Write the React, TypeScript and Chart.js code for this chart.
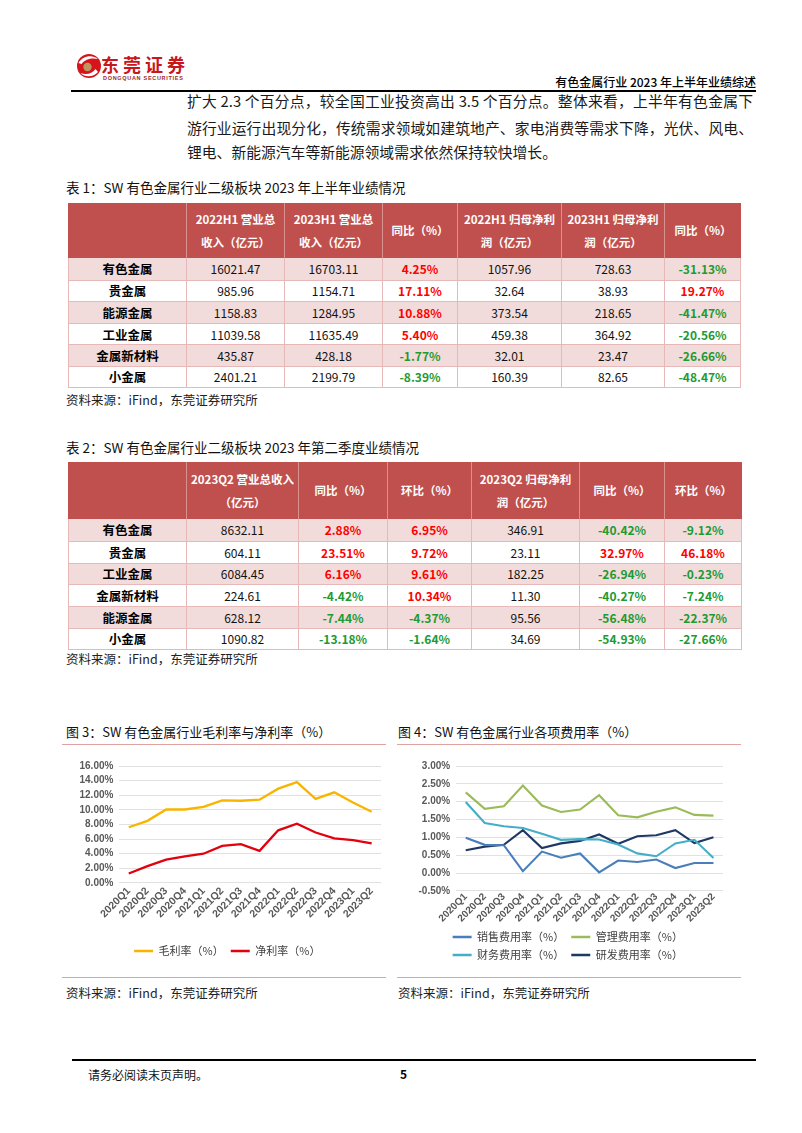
import React, { useEffect, useRef } from 'react';
import { Chart, registerables } from 'chart.js';

Chart.register(...registerables);

const FONT = "'Noto Sans CJK SC', 'Noto Sans', sans-serif";
const TICK_FONT = "'Liberation Sans', Arial, sans-serif";

// ---------- chart data ----------
const quarters = ['2020Q1', '2020Q2', '2020Q3', '2020Q4', '2021Q1', '2021Q2', '2021Q3', '2021Q4', '2022Q1', '2022Q2', '2022Q3', '2022Q4', '2023Q1', '2023Q2'];
const grossMargin = [7.62, 8.5, 10.05, 10.05, 10.4, 11.3, 11.25, 11.4, 12.9, 13.8, 11.5, 12.4, 11.0, 9.73];
const netMargin = [1.3, 2.3, 3.2, 3.65, 4.0, 5.07, 5.3, 4.4, 7.2, 8.1, 6.9, 6.1, 5.85, 5.4];
const sellingRate = [0.99, 0.79, 0.78, 0.05, 0.6, 0.43, 0.55, 0.02, 0.35, 0.31, 0.38, 0.14, 0.28, 0.28];
const adminRate = [2.26, 1.8, 1.87, 2.45, 1.89, 1.71, 1.78, 2.18, 1.62, 1.56, 1.72, 1.84, 1.63, 1.61];
const financeRate = [1.99, 1.4, 1.31, 1.26, 1.1, 0.93, 0.95, 0.94, 0.8, 0.55, 0.47, 0.83, 0.93, 0.42];
const rdRate = [0.64, 0.74, 0.79, 1.2, 0.7, 0.83, 0.9, 1.08, 0.82, 1.03, 1.06, 1.2, 0.84, 1.0];

// ---------- table 1 data ----------
const t1Sectors = ['有色金属', '贵金属', '能源金属', '工业金属', '金属新材料', '小金属'];
const t1Rev2022 = [16021.47, 985.96, 1158.83, 11039.58, 435.87, 2401.21];
const t1Rev2023 = [16703.11, 1154.71, 1284.95, 11635.49, 428.18, 2199.79];
const t1RevYoy = [4.25, 17.11, 10.88, 5.4, -1.77, -8.39];
const t1Np2022 = [1057.96, 32.64, 373.54, 459.38, 32.01, 160.39];
const t1Np2023 = [728.63, 38.93, 218.65, 364.92, 23.47, 82.65];
const t1NpYoy = [-31.13, 19.27, -41.47, -20.56, -26.66, -48.47];

// ---------- table 2 data ----------
const t2Sectors = ['有色金属', '贵金属', '工业金属', '金属新材料', '能源金属', '小金属'];
const t2Rev = [8632.11, 604.11, 6084.45, 224.61, 628.12, 1090.82];
const t2RevYoy = [2.88, 23.51, 6.16, -4.42, -7.44, -13.18];
const t2RevQoq = [6.95, 9.72, 9.61, 10.34, -4.37, -1.64];
const t2Np = [346.91, 23.11, 182.25, 11.3, 95.56, 34.69];
const t2NpYoy = [-40.42, 32.97, -26.94, -40.27, -56.48, -54.93];
const t2NpQoq = [-9.12, 46.18, -0.23, -7.24, -22.37, -27.66];

const t1Header = [[''], ['2022H1 营业总', '收入（亿元）'], ['2023H1 营业总', '收入（亿元）'], ['同比（%）'], ['2022H1 归母净利', '润（亿元）'], ['2023H1 归母净利', '润（亿元）'], ['同比（%）']];
const t2Header = [[''], ['2023Q2 营业总收入', '（亿元）'], ['同比（%）'], ['环比（%）'], ['2023Q2 归母净利', '润（亿元）'], ['同比（%）'], ['环比（%）']];

const paraLines = [
  '扩大 2.3 个百分点，较全国工业投资高出 3.5 个百分点。整体来看，上半年有色金属下',
  '游行业运行出现分化，传统需求领域如建筑地产、家电消费等需求下降，光伏、风电、',
  '锂电、新能源汽车等新能源领域需求依然保持较快增长。',
];

type Cell = { text: string; color?: string; bold?: boolean; size?: number };

const RED = '#FF0000';
const GREEN = '#1E9A32';

function num(v: number): Cell {
  return { text: v.toFixed(2) };
}
function pct(v: number): Cell {
  return { text: v.toFixed(2) + '%', color: v >= 0 ? RED : GREEN, bold: true };
}
function name(s: string): Cell {
  return { text: s, bold: true, size: 12.5, color: '#000' };
}

function DataTable(props: { left: number; top: number; widths: number[]; headerH: number; rowH: number; headers: string[][]; rows: Cell[][] }) {
  const { left, top, widths, headerH, rowH, headers, rows } = props;
  const total = widths.reduce((a, b) => a + b, 0);
  return (
    <div style={{ position: 'absolute', left, top, width: total }}>
      <div style={{ display: 'flex', height: headerH, background: '#C0504D' }}>
        {headers.map((h, i) => (
          <div
            key={i}
            style={{
              width: widths[i],
              boxSizing: 'border-box',
              borderLeft: i ? '1px solid #D9918F' : 'none',
              display: 'flex',
              flexDirection: 'column',
              justifyContent: 'center',
              alignItems: 'center',
              color: '#fff',
              fontWeight: 700,
              fontSize: 11.5,
              lineHeight: '23px',
              whiteSpace: 'nowrap',
            }}
          >
            {h.map((line, j) => (
              <div key={j}>{line}</div>
            ))}
          </div>
        ))}
      </div>
      {rows.map((r, ri) => (
        <div
          key={ri}
          style={{
            display: 'flex',
            height: rowH,
            boxSizing: 'border-box',
            background: ri % 2 === 0 ? '#F2DCDB' : '#FFFFFF',
            borderTop: ri ? '1px solid #E6B8B7' : 'none',
            borderLeft: '1px solid #E6B8B7',
            borderRight: '1px solid #E6B8B7',
            borderBottom: ri === rows.length - 1 ? '1px solid #E6B8B7' : 'none',
          }}
        >
          {r.map((c, ci) => (
            <div
              key={ci}
              style={{
                width: widths[ci] - (ci === 0 ? 1 : ci === r.length - 1 ? 1 : 0),
                boxSizing: 'border-box',
                borderLeft: ci ? '1px solid #E6B8B7' : 'none',
                display: 'flex',
                alignItems: 'center',
                justifyContent: 'center',
                fontSize: c.size || 12,
                fontWeight: c.bold ? 700 : 400,
                color: c.color || '#111',
                whiteSpace: 'nowrap',
              }}
            >
              {c.text}
            </div>
          ))}
        </div>
      ))}
    </div>
  );
}

function legendLabels() {
  return {
    boxWidth: 19,
    boxHeight: 2.5,
    padding: 7,
    color: '#404040',
    font: { family: FONT, size: 11 },
    generateLabels: (chart: any) =>
      (Chart.defaults.plugins.legend.labels.generateLabels as any)(chart).map((l: any) => ({ ...l, lineWidth: 0 })),
  };
}

function tickFont(size: number) {
  return { family: TICK_FONT, size, weight: 'bold' as const };
}

function LineChart(props: { left: number; top: number; width: number; height: number; build: () => any }) {
  const ref = useRef<HTMLCanvasElement>(null);
  useEffect(() => {
    const chart = new Chart(ref.current as HTMLCanvasElement, props.build());
    return () => chart.destroy();
  }, []);
  return (
    <canvas
      ref={ref}
      width={props.width}
      height={props.height}
      style={{ position: 'absolute', left: props.left, top: props.top, width: props.width, height: props.height }}
    />
  );
}

function line(label: string, data: number[], color: string, width: number) {
  return {
    label,
    data,
    borderColor: color,
    backgroundColor: color,
    borderWidth: width,
    pointRadius: 0,
    pointHoverRadius: 0,
    tension: 0,
    fill: false,
  };
}

function marginConfig() {
  return {
    type: 'line',
    data: {
      labels: quarters,
      datasets: [line('毛利率（%）', grossMargin, '#F7B500', 2.3), line('净利率（%）', netMargin, '#E3000F', 2.3)],
    },
    options: {
      animation: false,
      responsive: false,
      maintainAspectRatio: false,
      layout: { padding: { left: 7.5, right: 5, top: 18, bottom: 9.5 } },
      scales: {
        x: {
          offset: true,
          grid: { display: false, drawTicks: false },
          border: { display: false },
          ticks: { autoSkip: false, maxRotation: 45, minRotation: 45, padding: 2, color: '#595959', font: tickFont(10.5) },
          title: { display: true, text: '', padding: { top: 15, bottom: 0 }, font: { size: 1 } },
        },
        y: {
          min: 0,
          max: 16,
          grid: { color: '#D9D9D9', lineWidth: 0.8, drawTicks: false },
          border: { display: false },
          ticks: { autoSkip: false, stepSize: 2, padding: 6, color: '#595959', font: tickFont(10), callback: (v: any) => Number(v).toFixed(2) + '%' },
        },
      },
      plugins: {
        legend: { position: 'bottom', labels: legendLabels() },
        tooltip: { enabled: false },
      },
    },
  };
}

function expenseConfig() {
  return {
    type: 'line',
    data: {
      labels: quarters,
      datasets: [
        line('销售费用率（%）', sellingRate, '#4A7EBB', 2.1),
        line('管理费用率（%）', adminRate, '#9BBB59', 2.1),
        line('财务费用率（%）', financeRate, '#45AEC6', 2.1),
        line('研发费用率（%）', rdRate, '#1F3864', 2.1),
      ],
    },
    options: {
      animation: false,
      responsive: false,
      maintainAspectRatio: false,
      layout: { padding: { left: 14.5, right: 18, top: 18, bottom: 5.5 } },
      scales: {
        x: {
          offset: true,
          grid: { display: false, drawTicks: false },
          border: { display: false },
          ticks: { autoSkip: false, maxRotation: 45, minRotation: 45, padding: 0, color: '#595959', font: tickFont(10) },
        },
        y: {
          min: -0.5,
          max: 3,
          grid: { color: '#D9D9D9', lineWidth: 0.8, drawTicks: false },
          border: { display: false },
          ticks: { autoSkip: false, stepSize: 0.5, padding: 6, color: '#595959', font: tickFont(10), callback: (v: any) => Number(v).toFixed(2) + '%' },
        },
      },
      plugins: {
        legend: { position: 'bottom', labels: legendLabels() },
        tooltip: { enabled: false },
      },
    },
  };
}

function Text(props: { left: number; cy: number; size: number; children: any; weight?: number; color?: string; style?: any }) {
  const h = Math.round(props.size * 1.6);
  return (
    <div
      style={{
        position: 'absolute',
        left: props.left,
        top: props.cy - h / 2,
        height: h,
        lineHeight: h + 'px',
        fontSize: props.size,
        fontWeight: props.weight || 400,
        color: props.color || '#111',
        whiteSpace: 'nowrap',
        ...(props.style || {}),
      }}
    >
      {props.children}
    </div>
  );
}

function Logo() {
  return (
    <div style={{ position: 'absolute', left: 76, top: 52 }}>
      <svg width={26} height={28} viewBox="0 0 26 28" style={{ position: 'absolute', left: 0, top: 0 }}>
        <circle cx={13} cy={14} r={12} fill="#D6141C" />
        <path d="M2.5 11 C6 4 16 2 22 7 C16 5.5 9 7 5.5 12 Z" fill="#fff" />
        <path d="M22 20 C18 25 9 26 4.5 21 C10 23 16 22 19.5 17 Z" fill="#fff" />
        <circle cx={11.5} cy={15} r={4.2} fill="#BE9760" />
      </svg>
      <div
        style={{
          position: 'absolute',
          left: 25,
          top: 2,
          fontSize: 18,
          lineHeight: '20px',
          fontWeight: 700,
          color: '#C8161D',
          letterSpacing: 4,
          whiteSpace: 'nowrap',
        }}
      >
        东莞证券
      </div>
      <div
        style={{
          position: 'absolute',
          left: 27,
          top: 23,
          fontSize: 5.5,
          lineHeight: '7px',
          fontFamily: TICK_FONT,
          fontWeight: 700,
          color: '#9C2A2A',
          letterSpacing: 0.7,
          whiteSpace: 'nowrap',
        }}
      >
        DONGQUAN SECURITIES
      </div>
    </div>
  );
}

export default function App() {
  const t1Rows: Cell[][] = t1Sectors.map((s, i) => [
    name(s),
    num(t1Rev2022[i]),
    num(t1Rev2023[i]),
    pct(t1RevYoy[i]),
    num(t1Np2022[i]),
    num(t1Np2023[i]),
    pct(t1NpYoy[i]),
  ]);
  const t2Rows: Cell[][] = t2Sectors.map((s, i) => [
    name(s),
    num(t2Rev[i]),
    pct(t2RevYoy[i]),
    pct(t2RevQoq[i]),
    num(t2Np[i]),
    pct(t2NpYoy[i]),
    pct(t2NpQoq[i]),
  ]);
  const source = '资料来源：iFind，东莞证券研究所';
  return (
    <div
      style={{
        position: 'absolute',
        left: 0,
        top: 0,
        width: 802,
        height: 1133,
        background: '#fff',
        overflow: 'hidden',
        fontFamily: FONT,
      }}
    >
      <Logo />
      <div
        style={{
          position: 'absolute',
          right: 802 - 756,
          top: 74,
          fontSize: 12,
          lineHeight: '16px',
          fontWeight: 500,
          color: '#000',
          whiteSpace: 'nowrap',
        }}
      >
        有色金属行业 2023 年上半年业绩综述
      </div>
      <div style={{ position: 'absolute', left: 71, top: 90, width: 685, height: 2, background: '#000' }} />

      {paraLines.map((t, i) => (
        <div
          key={i}
          style={{
            position: 'absolute',
            left: 187,
            top: [101, 128, 152][i] - 12,
            width: 566,
            height: 24,
            lineHeight: '24px',
            fontSize: 14.8,
            color: '#1a1a1a',
            textAlign: 'justify',
            textAlignLast: i < 2 ? 'justify' : 'left',
            whiteSpace: 'nowrap',
          }}
        >
          {t}
        </div>
      ))}

      <Text left={66} cy={187} size={13.5}>表 1：SW 有色金属行业二级板块 2023 年上半年业绩情况</Text>
      <DataTable left={68} top={203} widths={[118, 98, 98, 75, 104, 103, 77]} headerH={55} rowH={21.6} headers={t1Header} rows={t1Rows} />
      <Text left={66} cy={400} size={12.5} color="#222">{source}</Text>

      <Text left={66} cy={447} size={13.5}>表 2：SW 有色金属行业二级板块 2023 年第二季度业绩情况</Text>
      <DataTable left={68} top={462} widths={[118, 112, 89, 84, 108, 85, 78]} headerH={57} rowH={21.8} headers={t2Header} rows={t2Rows} />
      <Text left={66} cy={659} size={12.5} color="#222">{source}</Text>

      <Text left={66} cy={731} size={13}>图 3：SW 有色金属行业毛利率与净利率（%）</Text>
      <Text left={398} cy={731} size={13}>图 4：SW 有色金属行业各项费用率（%）</Text>
      <div style={{ position: 'absolute', left: 62, top: 744, width: 324, height: 1.3, background: '#E0A3A1' }} />
      <div style={{ position: 'absolute', left: 397, top: 744, width: 344, height: 1.3, background: '#E0A3A1' }} />

      <LineChart left={66} top={748} width={320} height={228} build={marginConfig} />
      <LineChart left={398} top={748} width={343} height={228} build={expenseConfig} />

      <div style={{ position: 'absolute', left: 62, top: 977, width: 324, height: 1.3, background: '#E0A3A1' }} />
      <div style={{ position: 'absolute', left: 397, top: 977, width: 344, height: 1.3, background: '#E0A3A1' }} />
      <Text left={66} cy={993} size={12.5} color="#222">{source}</Text>
      <Text left={398} cy={993} size={12.5} color="#222">{source}</Text>

      <div style={{ position: 'absolute', left: 72, top: 1059, width: 684, height: 1.5, background: '#000' }} />
      <Text left={88} cy={1074} size={12} color="#111">请务必阅读末页声明。</Text>
      <Text left={400} cy={1073} size={12} weight={700} color="#000">5</Text>
    </div>
  );
}
